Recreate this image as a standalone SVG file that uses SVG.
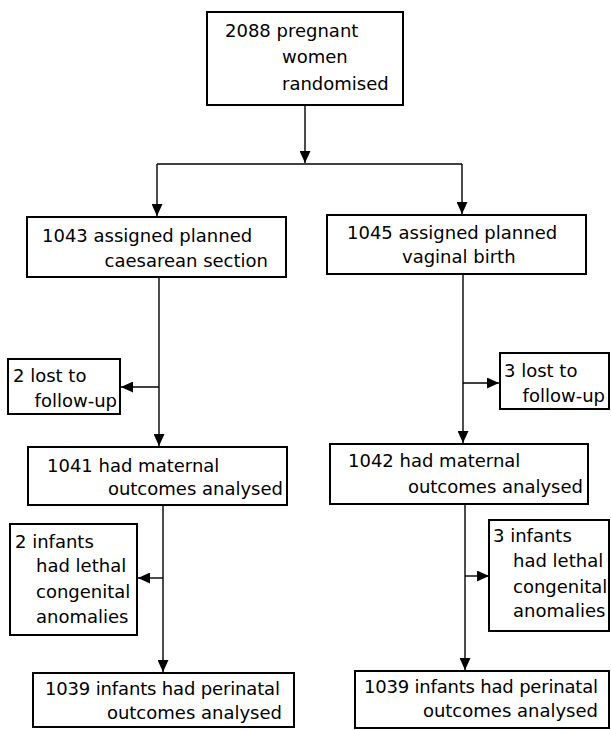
<svg xmlns="http://www.w3.org/2000/svg" width="611" height="730" viewBox="0 0 611 730">
<defs>
<marker id="ah" markerUnits="userSpaceOnUse" markerWidth="13" markerHeight="11" refX="12" refY="5.5" orient="auto">
<path d="M0,0 L12,5.5 L0,11 Z" fill="#000"/>
</marker>
<style>
.box{fill:#fff;stroke:#000;stroke-width:2}
.t{font-family:"DejaVu Sans","Liberation Sans",sans-serif;font-size:18px;fill:#000}
.e{text-anchor:end}
.c{fill:none;stroke:#000;stroke-width:1.4}
</style>
</defs>
<rect width="611" height="730" fill="#fff"/>
<g id="connectors">
<line class="c" x1="305" y1="105" x2="305" y2="163" marker-end="url(#ah)"/>
<line class="c" x1="157" y1="164" x2="462" y2="164"/>
<line class="c" x1="157" y1="164" x2="157" y2="216" marker-end="url(#ah)"/>
<line class="c" x1="462" y1="164" x2="462" y2="214" marker-end="url(#ah)"/>
<line class="c" x1="159" y1="277" x2="159" y2="446" marker-end="url(#ah)"/>
<line class="c" x1="159" y1="387" x2="121" y2="387" marker-end="url(#ah)"/>
<line class="c" x1="463" y1="274" x2="463" y2="443" marker-end="url(#ah)"/>
<line class="c" x1="463" y1="383" x2="499" y2="383" marker-end="url(#ah)"/>
<line class="c" x1="163" y1="505" x2="163" y2="672" marker-end="url(#ah)"/>
<line class="c" x1="163" y1="578" x2="138" y2="578" marker-end="url(#ah)"/>
<line class="c" x1="465" y1="504" x2="465" y2="670" marker-end="url(#ah)"/>
<line class="c" x1="465" y1="576" x2="489" y2="576" marker-end="url(#ah)"/>
</g>
<g id="randomised">
<rect class="box" x="207" y="12" width="196" height="93"/>
<text class="t" x="225" y="37">2088 pregnant</text>
<text class="t" x="282" y="63">women</text>
<text class="t" x="282" y="90">randomised</text>
</g>
<g id="caesarean">
<rect class="box" x="27" y="217" width="259" height="60"/>
<text class="t" x="42" y="242">1043 assigned planned</text>
<text class="t e" x="268" y="267">caesarean section</text>
</g>
<g id="vaginal">
<rect class="box" x="327" y="215" width="259" height="59"/>
<text class="t" x="347" y="239">1045 assigned planned</text>
<text class="t" x="402" y="263">vaginal birth</text>
</g>
<g id="lost-left">
<rect class="box" x="8" y="359" width="112" height="55"/>
<text class="t" x="13" y="382">2 lost to</text>
<text class="t e" x="117" y="407">follow-up</text>
</g>
<g id="lost-right">
<rect class="box" x="500" y="353" width="109" height="56"/>
<text class="t" x="504" y="377">3 lost to</text>
<text class="t e" x="605" y="402">follow-up</text>
</g>
<g id="maternal-left">
<rect class="box" x="28" y="447" width="259" height="58"/>
<text class="t" x="47" y="472">1041 had maternal</text>
<text class="t e" x="283" y="495">outcomes analysed</text>
</g>
<g id="maternal-right">
<rect class="box" x="330" y="444" width="258" height="60"/>
<text class="t" x="348" y="467">1042 had maternal</text>
<text class="t e" x="583" y="493">outcomes analysed</text>
</g>
<g id="anomalies-left">
<rect class="box" x="10" y="524" width="127" height="111"/>
<text class="t" x="15" y="548">2 infants</text>
<text class="t" x="36" y="572">had lethal</text>
<text class="t" x="36" y="598">congenital</text>
<text class="t" x="36" y="623">anomalies</text>
</g>
<g id="anomalies-right">
<rect class="box" x="489" y="520" width="120" height="111"/>
<text class="t" x="493" y="542">3 infants</text>
<text class="t" x="513" y="567">had lethal</text>
<text class="t" x="513" y="593">congenital</text>
<text class="t" x="513" y="617">anomalies</text>
</g>
<g id="perinatal-left">
<rect class="box" x="33" y="673" width="261" height="54"/>
<text class="t" x="45" y="695" textLength="235">1039 infants had perinatal</text>
<text class="t e" x="282" y="719">outcomes analysed</text>
</g>
<g id="perinatal-right">
<rect class="box" x="355" y="671" width="254" height="57"/>
<text class="t" x="364" y="693" textLength="234">1039 infants had perinatal</text>
<text class="t e" x="598" y="717">outcomes analysed</text>
</g>
</svg>
